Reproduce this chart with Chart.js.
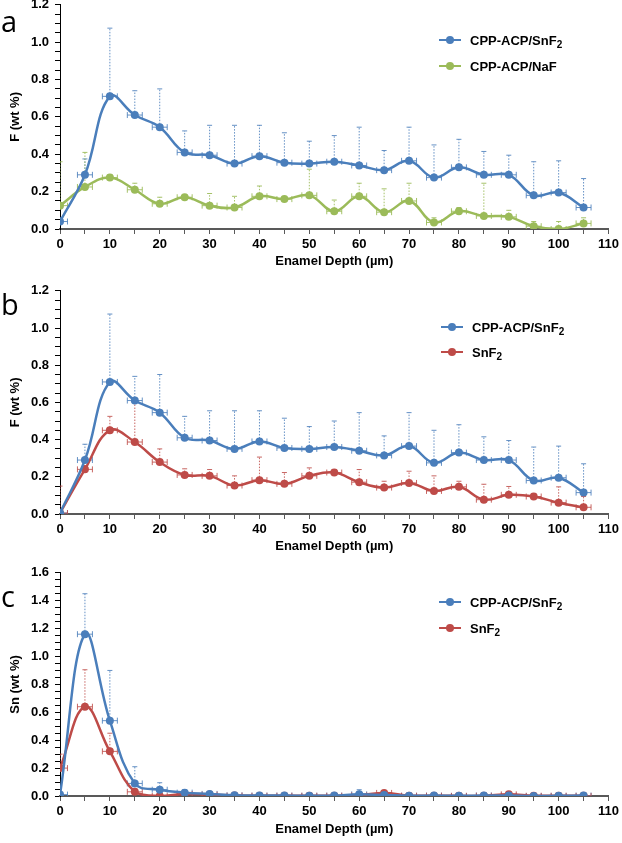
<!DOCTYPE html>
<html>
<head>
<meta charset="utf-8">
<script src="https://cdn.jsdelivr.net/npm/chart.js@4.4.0/dist/chart.umd.min.js"></script>
<style>
  body { margin: 0; background: #fff; }
  #wrap { position: relative; width: 622px; height: 843px; overflow: hidden; }
  canvas { position: absolute; left: 0; }
  .tag { position: absolute; left: 1px; font-family: "Open Sans", sans-serif; font-size: 29px; line-height: 1; color: #000; }
  .row { position: absolute; height: 16px; display: flex; align-items: center; white-space: nowrap;
         font: bold 13px "Liberation Sans", Arial, sans-serif; color: #000; }
  .mk { position: relative; width: 22px; height: 2.5px; margin-right: 9px; }
  .mk i { position: absolute; left: 7px; top: -3px; width: 8px; height: 8px; border-radius: 50%; }
  sub { font-size: 10px; vertical-align: -3px; line-height: 0; }
</style>
</head>
<body>
<div id="wrap">
  <canvas id="chartA"></canvas>
  <canvas id="chartB"></canvas>
  <canvas id="chartC"></canvas>
  <div class="tag" style="top:6px">a</div>
  <div class="tag" style="top:289px">b</div>
  <div class="tag" style="top:581px">c</div>
</div>
<script>
// enamel depth (µm)
const depth = [0, 5, 10, 15, 20, 25, 30, 35, 40, 45, 50, 55, 60, 65, 70, 75, 80, 85, 90, 95, 100, 105]
const DEPTH_ERR = 1.5

// F (wt %), panel a
const fCppSnF2 = [0.04, 0.29, 0.71, 0.61, 0.545, 0.41, 0.395, 0.35, 0.39, 0.355, 0.35, 0.36, 0.34, 0.315, 0.365, 0.275, 0.33, 0.29, 0.29, 0.18, 0.195, 0.115]
const fCppSnF2Sd = [0.02, 0.085, 0.365, 0.13, 0.205, 0.115, 0.16, 0.205, 0.165, 0.16, 0.12, 0.14, 0.205, 0.105, 0.18, 0.175, 0.15, 0.125, 0.105, 0.18, 0.17, 0.155]
const fCppNaF = [0.125, 0.225, 0.275, 0.21, 0.135, 0.17, 0.125, 0.115, 0.175, 0.16, 0.18, 0.095, 0.175, 0.09, 0.15, 0.035, 0.095, 0.07, 0.065, 0.015, 0.0, 0.03]
const fCppNaFSd = [0.235, 0.185, 0.015, 0.035, 0.035, 0.01, 0.065, 0.06, 0.055, 0.01, 0.14, 0.06, 0.07, 0.125, 0.095, 0.025, 0.02, 0.175, 0.035, 0.025, 0.04, 0.03]

// F (wt %), panel b
const fCppSnF2b = [0.005, 0.29, 0.71, 0.61, 0.545, 0.41, 0.395, 0.35, 0.39, 0.355, 0.35, 0.36, 0.34, 0.315, 0.365, 0.275, 0.33, 0.29, 0.29, 0.18, 0.195, 0.115]
const fSnF2 = [0.005, 0.24, 0.45, 0.387, 0.279, 0.21, 0.205, 0.153, 0.182, 0.162, 0.205, 0.223, 0.171, 0.142, 0.167, 0.124, 0.146, 0.077, 0.103, 0.094, 0.061, 0.036]
const fSnF2Sd = [0.145, 0.02, 0.075, 0.213, 0.071, 0.033, 0.034, 0.052, 0.124, 0.061, 0.043, 0.016, 0.068, 0.034, 0.063, 0.081, 0.03, 0.083, 0.045, 0.016, 0.085, 0.058]

// Sn (wt %), panel c
const snCppSnF2 = [0.01, 1.16, 0.54, 0.09, 0.045, 0.024, 0.015, 0.005, 0.003, 0.003, 0.002, 0.003, 0.012, 0.007, 0.002, 0.003, 0.001, 0.004, 0.003, 0.0, 0.001, 0.003]
const snCppSnF2Sd = [0.01, 0.29, 0.36, 0.12, 0.05, 0.021, 0.015, 0.005, 0.004, 0.004, 0.003, 0.004, 0.033, 0.008, 0.003, 0.006, 0.002, 0.016, 0.006, 0.002, 0.003, 0.012]
const snSnF2 = [0.2, 0.64, 0.32, 0.03, 0.0, 0.014, 0.01, 0.003, 0.002, 0.002, 0.002, 0.002, 0.005, 0.022, 0.002, 0.002, 0.001, 0.002, 0.012, 0.002, 0.002, 0.001]
const snSnF2Sd = [0.1, 0.265, 0.13, 0.02, 0.003, 0.006, 0.006, 0.003, 0.003, 0.003, 0.003, 0.003, 0.005, 0.01, 0.003, 0.003, 0.002, 0.003, 0.01, 0.003, 0.003, 0.003]

const BLUE = '#4a7ebb', GREEN = '#9bbb59', RED = '#be4b48'
const FONT = "'Liberation Sans', Arial, sans-serif"

const errorBars = {
  id: 'errorBars',
  beforeDatasetsDraw(chart) {
    const { ctx, chartArea, scales: { x, y } } = chart
    ctx.save()
    ctx.beginPath()
    ctx.rect(chartArea.left, 0, chartArea.right - chartArea.left, chartArea.bottom)
    ctx.clip()
    chart.data.datasets.forEach((ds, i) => {
      const meta = chart.getDatasetMeta(i)
      ctx.strokeStyle = ds.errColor
      ctx.lineWidth = 1
      meta.data.forEach((pt, j) => {
        const d = ds.data[j]
        const top = y.getPixelForValue(d.y + ds.sd[j])
        ctx.setLineDash([1.5, 1.5])
        ctx.beginPath(); ctx.moveTo(pt.x, pt.y); ctx.lineTo(pt.x, top); ctx.stroke()
        ctx.setLineDash([])
        ctx.beginPath(); ctx.moveTo(pt.x - 2.5, top); ctx.lineTo(pt.x + 2.5, top); ctx.stroke()
        const x0 = x.getPixelForValue(d.x - DEPTH_ERR)
        const x1 = x.getPixelForValue(d.x + DEPTH_ERR)
        ctx.beginPath()
        ctx.moveTo(x0, pt.y); ctx.lineTo(x1, pt.y)
        ctx.moveTo(x0, pt.y - 3); ctx.lineTo(x0, pt.y + 3)
        ctx.moveTo(x1, pt.y - 3); ctx.lineTo(x1, pt.y + 3)
        ctx.stroke()
      })
    })
    ctx.restore()
  }
}

const series = (label, values, sd, color, errColor) => ({
  label: label,
  data: depth.map((d, i) => ({ x: d, y: values[i] })),
  sd: sd,
  errColor: errColor,
  borderColor: color,
  backgroundColor: color,
  borderWidth: 2.5,
  pointRadius: 4,
  pointBorderWidth: 0,
  pointBackgroundColor: color,
  tension: 0.4
})

const makeLegend = (datasets, rowsY, textX) => {
  const wrap = document.getElementById('wrap')
  datasets.forEach((ds, i) => {
    const row = document.createElement('div')
    row.className = 'row'
    row.style.left = (textX - 31) + 'px'
    row.style.top = (rowsY[i] - 8) + 'px'
    const mk = `<span class="mk" style="background:${ds.borderColor}"><i style="background:${ds.borderColor}"></i></span>`
    row.innerHTML = mk + '<span>' + ds.label.replace(/F2$/, 'F<sub>2</sub>') + '</span>'
    wrap.appendChild(row)
  })
}

const chartConfig = (datasets, xHeight, yMax, yTitle) => ({
  type: 'line',
  data: { datasets: datasets },
  options: {
    responsive: false,
    animation: false,
    layout: { padding: { left: 0, right: 10, top: 0, bottom: 0 } },
    plugins: { legend: { display: false }, tooltip: { enabled: false } },
    scales: {
      x: {
        type: 'linear', min: 0, max: 110,
        afterFit: (scale) => { scale.height = xHeight },
        border: { color: '#595959', width: 2 },
        grid: { drawOnChartArea: false, tickLength: 5, tickColor: '#595959', tickWidth: 1 },
        ticks: {
          stepSize: 5, autoSkip: false, maxRotation: 0, padding: 3, color: '#000',
          font: { family: FONT, size: 13, weight: 'bold' },
          callback: (v) => (v % 10 === 0 ? v : '')
        },
        title: {
          display: true, text: 'Enamel Depth (µm)', color: '#000',
          font: { family: FONT, size: 13, weight: 'bold' }, padding: { top: 0, bottom: 4 }
        }
      },
      y: {
        min: 0, max: yMax,
        afterFit: (scale) => { scale.width = 60 },
        border: { color: '#000', width: 1 },
        grid: { drawOnChartArea: false, tickLength: 5, tickColor: '#000', tickWidth: 1 },
        ticks: {
          stepSize: 0.05, autoSkip: false, padding: 6, color: '#000',
          font: { family: FONT, size: 13, weight: 'bold' },
          callback: (v) => (Math.round(v * 100) % 20 === 0 ? v.toFixed(1) : '')
        },
        title: {
          display: true, text: yTitle, color: '#000',
          font: { family: FONT, size: 13, weight: 'bold' }, padding: { top: 8, bottom: 0 }
        }
      }
    }
  },
  plugins: [errorBars]
})

// p: plot area top/bottom and bottom edge of the panel (below the x title)
const makePanel = (id, p, datasets, yMax, yTitle) => {
  const canvas = document.getElementById(id)
  const xHeight = p.bottom - p.areaBottom
  canvas.width = 622
  canvas.height = 300
  let chart = new Chart(canvas, chartConfig(datasets, xHeight, yMax, yTitle))
  const pad = chart.chartArea.top
  chart.destroy()
  canvas.width = 622
  canvas.height = pad + (p.areaBottom - p.areaTop) + xHeight
  canvas.style.top = (p.areaTop - pad) + 'px'
  chart = new Chart(canvas, chartConfig(datasets, xHeight, yMax, yTitle))
  return chart
}

const chartA = makePanel('chartA', { areaTop: 5, areaBottom: 230, bottom: 274 }, [
  series('CPP-ACP/SnF2', fCppSnF2, fCppSnF2Sd, BLUE, 'rgba(74,126,187,0.85)'),
  series('CPP-ACP/NaF', fCppNaF, fCppNaFSd, GREEN, 'rgba(155,187,89,0.9)')
], 1.2, 'F (wt %)')

const chartB = makePanel('chartB', { areaTop: 291, areaBottom: 515, bottom: 559 }, [
  series('CPP-ACP/SnF2', fCppSnF2b, fCppSnF2Sd, BLUE, 'rgba(74,126,187,0.85)'),
  series('SnF2', fSnF2, fSnF2Sd, RED, 'rgba(190,75,72,0.85)')
], 1.2, 'F (wt %)')

const chartC = makePanel('chartC', { areaTop: 573, areaBottom: 797, bottom: 842 }, [
  series('CPP-ACP/SnF2', snCppSnF2, snCppSnF2Sd, BLUE, 'rgba(74,126,187,0.85)'),
  series('SnF2', snSnF2, snSnF2Sd, RED, 'rgba(190,75,72,0.85)')
], 1.6, 'Sn (wt %)')

makeLegend(chartA.data.datasets, [40, 66], 470)
makeLegend(chartB.data.datasets, [327, 352], 472)
makeLegend(chartC.data.datasets, [602, 628], 470)
</script>
</body>
</html>
